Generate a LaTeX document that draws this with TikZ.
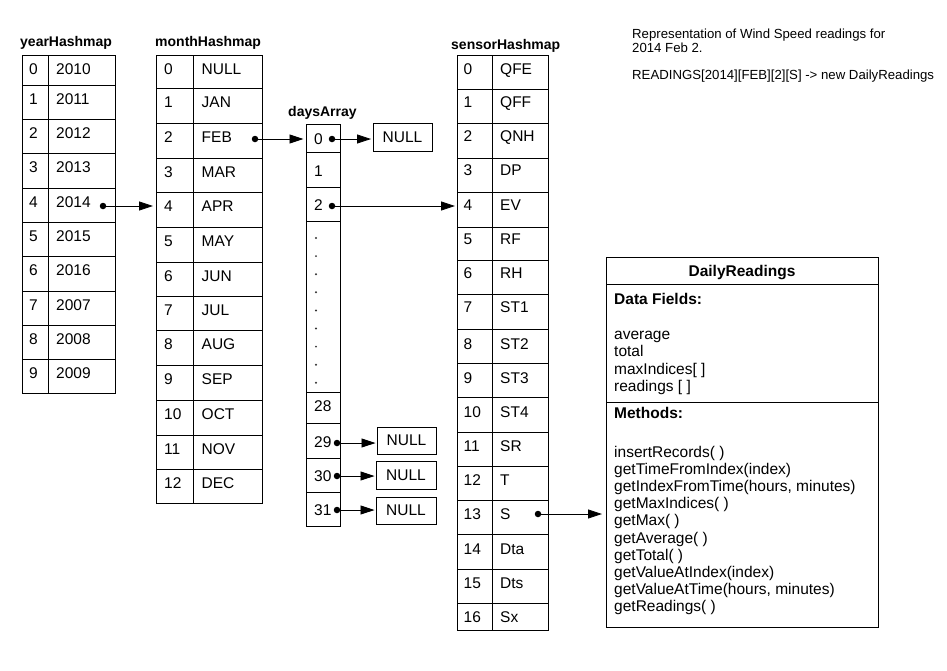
\documentclass[tikz,border=0pt]{standalone}
\usepackage{fontspec}
\setmainfont{Liberation Sans}
\usetikzlibrary{arrows.meta}
\begin{document}
\begin{tikzpicture}[x=1pt,y=-1pt,
  cell/.style={draw, line width=0.9pt, inner sep=0pt, anchor=north west},
  ctext/.style={font=\fontsize{15.5}{18}\selectfont, anchor=base west, inner sep=0pt},
  btext/.style={font=\fontsize{15.5}{18}\selectfont\bfseries, anchor=base west, inner sep=0pt},
  ttl/.style={font=\fontsize{14}{16}\selectfont\bfseries, anchor=base west, inner sep=0pt},
  note/.style={font=\fontsize{13.2}{15}\selectfont, anchor=base west, inner sep=0pt},
  nullbox/.style={draw, line width=0.9pt, inner sep=0pt, font=\fontsize{15.5}{18}\selectfont},
  ptr/.style={line width=0.8pt, -{Triangle[length=14pt,width=9pt]}},
  pdot/.style={circle, fill, inner sep=0pt, minimum size=6.5pt}
]
\useasboundingbox (0,0) rectangle (947,670);

% titles
\node[ttl] (tyear) at (20,46) {yearHashmap};
\node[ttl] (tmonth) at (155,46) {monthHashmap};
\node[ttl] (tdays) at (288,116) {daysArray};
\node[ttl] (tsensor) at (451,49) {sensorHashmap};

% year table
\foreach \i/\t/\b/\v in {0/55/85/2010,1/85/119/2011,2/119/153/2012,3/153/188/2013,4/188/222/2014,5/222/256/2015,6/256/291/2016,7/291/325/2007,8/325/359/2008,9/359/393/2009}{
  \pgfmathsetmacro\h{\b-\t}
  \node[cell, minimum width=26pt, minimum height=\h pt] (yi\i) at (22,\t) {};
  \node[cell, minimum width=67pt, minimum height=\h pt] (yv\i) at (48,\t) {};
  \node[ctext] (yit\i) at (29,\t+19.5) {\i};
  \node[ctext] (yvt\i) at (56,\t+19.5) {\v};
}

% month table
\foreach \i/\t/\b/\v in {0/55/88/NULL,1/88/123/JAN,2/123/158/FEB,3/158/192/MAR,4/192/227/APR,5/227/262/MAY,6/262/296/JUN,7/296/330/JUL,8/330/365/AUG,9/365/400/SEP,10/400/435/OCT,11/435/469/NOV,12/469/503/DEC}{
  \pgfmathsetmacro\h{\b-\t}
  \node[cell, minimum width=37pt, minimum height=\h pt] (mi\i) at (156,\t) {};
  \node[cell, minimum width=69pt, minimum height=\h pt] (mv\i) at (193,\t) {};
  \node[ctext] (mit\i) at (164,\t+19) {\i};
  \node[ctext] (mvt\i) at (201.5,\t+19) {\v};
}

% days array
\foreach \i/\t/\b/\c in {0/124/152/139,1/152/187/171,2/187/221/205,28/392/423/406,29/423/458/442,30/458/492/476,31/492/526/510}{
  \pgfmathsetmacro\h{\b-\t}
  \node[cell, minimum width=34pt, minimum height=\h pt] (d\i) at (306,\t) {};
  \node[ctext] (dt\i) at (314,\c+5.5) {\i};
}
\node[cell, minimum width=34pt, minimum height=171pt] (ddots) at (306,221) {};
\foreach \k in {0,...,8}{
  \fill[black!80] (316,238+18.1*\k) circle (1.1pt);
}

% sensor table
\foreach \i/\t/\b/\c/\v in {0/55/89/69/QFE,1/89/123/102/QFF,2/123/158/136/QNH,3/158/192/170/DP,4/192/227/205/EV,5/227/260/239/RF,6/260/294/273/RH,7/294/329/307/ST1,8/329/363/344/ST2,9/363/397/377.5/ST3,10/397/432/412/ST4,11/432/466/446/SR,12/466/500/480/T,13/500/534/514/S,14/534/569/549/Dta,15/569/603/583/Dts,16/603/630/617/Sx}{
  \pgfmathsetmacro\h{\b-\t}
  \node[cell, minimum width=35pt, minimum height=\h pt] (si\i) at (457,\t) {};
  \node[cell, minimum width=56pt, minimum height=\h pt] (sv\i) at (492,\t) {};
  \node[ctext] (sit\i) at (463.5,\c+5.5) {\i};
  \node[ctext] (svt\i) at (500,\c+5.5) {\v};
}

% NULL boxes
\node[nullbox, minimum width=59pt, minimum height=28pt] (n0) at (402.5,137) {NULL};
\node[nullbox, minimum width=59pt, minimum height=27pt] (n29) at (406.5,440.5) {NULL};
\node[nullbox, minimum width=60pt, minimum height=28pt] (n30) at (406,475) {NULL};
\node[nullbox, minimum width=60pt, minimum height=27pt] (n31) at (406,510.5) {NULL};

% DailyReadings box
\node[cell, minimum width=272pt, minimum height=27pt] (drt) at (606,257) {};
\node[cell, minimum width=272pt, minimum height=118pt] (drf) at (606,284) {};
\node[cell, minimum width=272pt, minimum height=225pt] (drm) at (606,402) {};
\node[btext, anchor=base] (drtitle) at (742,276.6) {DailyReadings};
\node[btext] (drfh) at (614,304.5) {Data Fields:};
\foreach \k/\s in {0/average,1/total,2/{maxIndices[\ ]},3/{readings [\ ]}}{
  \node[ctext] (drf\k) at (614,339.5+17.4*\k) {\s};
}
\node[btext] (drmh) at (614,418.5) {Methods:};
\foreach \k/\s in {0/{insertRecords(\ )},1/{getTimeFromIndex(index)},2/{getIndexFromTime(hours, minutes)},3/{getMaxIndices(\ )},4/{getMax(\ )},5/{getAverage(\ )},6/{getTotal(\ )},7/{getValueAtIndex(index)},8/{getValueAtTime(hours, minutes)},9/{getReadings(\ )}}{
  \node[ctext] (drm\k) at (614,457+17.2*\k) {\s};
}

% notes
\node[note] (note1) at (632,38.5) {Representation of Wind Speed readings for};
\node[note] (note2) at (632,52.7) {2014 Feb 2.};
\node[note] (note3) at (632,79) {READINGS[2014][FEB][2][S] -> new DailyReadings};

% pointer dots
\node[pdot] (yd) at (103,206) {};
\node[pdot] (md) at (255,139) {};
\node[pdot] (dd0) at (332,139) {};
\node[pdot] (dd2) at (332,206) {};
\node[pdot] (dd29) at (337,443) {};
\node[pdot] (dd30) at (337,476) {};
\node[pdot] (dd31) at (337,510) {};
\node[pdot] (sd) at (538,514) {};

% arrows
\draw[ptr, shorten >=3pt] (yd.center) -- (yd.center -| mi4.west);
\draw[ptr, shorten >=2.5pt] (md.center) -- (md.center -| d0.west);
\draw[ptr, shorten >=1.5pt] (dd0.center) -- (dd0.center -| n0.west);
\draw[ptr, shorten >=2pt] (dd2.center) -- (dd2.center -| si4.west);
\draw[ptr, shorten >=1pt] (dd29.center) -- (dd29.center -| n29.west);
\draw[ptr, shorten >=1pt] (dd30.center) -- (dd30.center -| n30.west);
\draw[ptr, shorten >=1pt] (dd31.center) -- (dd31.center -| n31.west);
\draw[ptr, shorten >=4pt] (sd.center) -- (sd.center -| drm.west);
\end{tikzpicture}
\end{document}
